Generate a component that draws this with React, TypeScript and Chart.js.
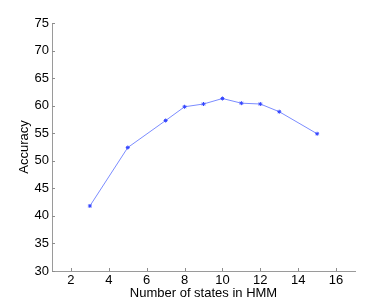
import React, { useEffect, useRef } from "react";
import { Chart, registerables } from "chart.js";

Chart.register(...registerables);

const numStates = [3, 5, 7, 8, 9, 10, 11, 12, 13, 15];
const accuracy = [41.8, 52.4, 57.3, 59.8, 60.3, 61.3, 60.45, 60.3, 58.9, 54.9];
const xTicks = [2, 4, 6, 8, 10, 12, 14, 16];
const yTicks = [30, 35, 40, 45, 50, 55, 60, 65, 70, 75];

const FONT = "'Liberation Sans', Arial, Helvetica, sans-serif";

const inwardTicks = {
  id: "inwardTicks",
  afterDraw(chart: any) {
    const { ctx, chartArea, scales } = chart;
    ctx.save();
    ctx.strokeStyle = "#8c8c8c";
    ctx.lineWidth = 1;
    ctx.beginPath();
    scales.x.ticks.forEach((t: any) => {
      const px = Math.round(scales.x.getPixelForValue(t.value)) + 0.5;
      ctx.moveTo(px, chartArea.bottom);
      ctx.lineTo(px, chartArea.bottom - 3);
    });
    scales.y.ticks.forEach((t: any) => {
      const py = Math.round(scales.y.getPixelForValue(t.value)) + 0.5;
      ctx.moveTo(chartArea.left, py);
      ctx.lineTo(chartArea.left + 3, py);
    });
    ctx.stroke();
    ctx.restore();
  },
};

export default function App() {
  const ref = useRef<HTMLCanvasElement>(null);
  useEffect(() => {
    document.body.style.margin = "0";
    const chart = new Chart(ref.current!, {
      type: "scatter",
      data: {
        datasets: [
          {
            data: numStates.map((x, i) => ({ x, y: accuracy[i] })),
            showLine: true,
            borderColor: "#7b8cff",
            borderWidth: 1,
            pointStyle: "star",
            pointRadius: 2,
            pointBorderColor: "#3344ff",
            pointBackgroundColor: "#3344ff",
            pointBorderWidth: 1,
          },
        ],
      },
      options: {
        animation: false,
        responsive: false,
        layout: { padding: { left: 0, top: 23, right: 37, bottom: 0 } },
        plugins: { legend: { display: false }, tooltip: { enabled: false } },
        scales: {
          x: {
            type: "linear",
            min: 1,
            max: 17,
            afterBuildTicks: (s: any) => {
              s.ticks = xTicks.map((v) => ({ value: v }));
            },
            afterFit: (s: any) => {
              s.height = 34;
            },
            grid: { display: false, drawTicks: false },
            border: { display: true, color: "#9a9a9a", width: 1 },
            ticks: {
              color: "#000",
              font: { family: FONT, size: 13 },
              padding: 2,
              maxRotation: 0,
              autoSkip: false,
            },
            title: {
              display: true,
              text: "Number of states in HMM",
              color: "#000",
              font: { family: FONT, size: 13 },
              padding: { top: 0, bottom: 4 },
            },
          },
          y: {
            type: "linear",
            min: 30,
            max: 75,
            afterBuildTicks: (s: any) => {
              s.ticks = yTicks.map((v) => ({ value: v }));
            },
            afterFit: (s: any) => {
              s.width = 52;
            },
            grid: { display: false, drawTicks: false },
            border: { display: true, color: "#9a9a9a", width: 1 },
            ticks: {
              color: "#000",
              font: { family: FONT, size: 13 },
              padding: 3,
              autoSkip: false,
            },
            title: {
              display: true,
              text: "Accuracy",
              color: "#000",
              font: { family: FONT, size: 13 },
              padding: { top: 17, bottom: 0 },
            },
          },
        },
      },
      plugins: [inwardTicks],
    } as any);
    return () => chart.destroy();
  }, []);
  return <canvas ref={ref} width={392} height={305} style={{ display: "block" }} />;
}
